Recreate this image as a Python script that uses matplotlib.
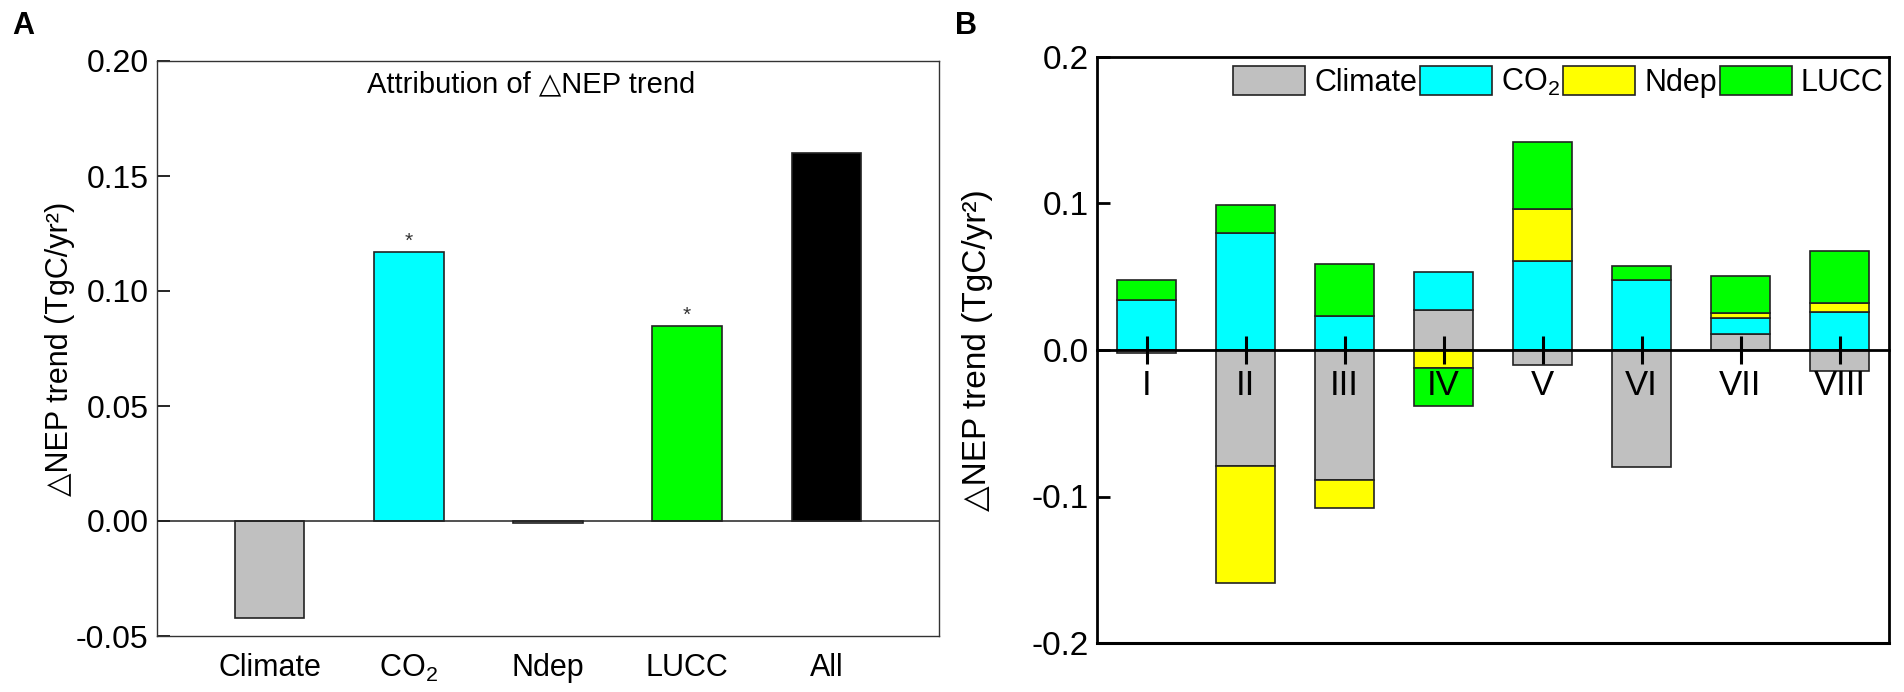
import numpy as np
import matplotlib
matplotlib.use("Agg")
import matplotlib.pyplot as plt

plt.rcParams["font.family"] = ["Liberation Sans", "DejaVu Sans"]
plt.rcParams["mathtext.default"] = "regular"

# panel A: attribution of the trend
factors_a = ["Climate", "CO$_2$", "Ndep", "LUCC", "All"]
trend_a = [-0.042, 0.117, -0.001, 0.085, 0.160]
signif_a = [False, True, False, True, False]

# panel B: stacked contribution per region
regions = ["I", "II", "III", "IV", "V", "VI", "VII", "VIII"]
factor_names = ["Climate", "CO$_2$", "Ndep", "LUCC"]
climate_b = [-0.002, -0.079, -0.089, 0.027, -0.010, -0.080, 0.011, -0.014]
co2_b = [0.034, 0.080, 0.023, 0.026, 0.061, 0.048, 0.011, 0.026]
ndep_b = [0.000, -0.080, -0.019, -0.012, 0.035, 0.000, 0.0035, 0.006]
lucc_b = [0.014, 0.019, 0.036, -0.026, 0.046, 0.009, 0.025, 0.0355]

GREY, CYAN, YELLOW, GREEN = "#C0C0C0", "#00FFFF", "#FFFF00", "#00FF00"
colors_a = [GREY, CYAN, GREY, GREEN, "black"]
colors_b = [GREY, CYAN, YELLOW, GREEN]
YLAB = "\u25b3NEP trend (TgC/yr\u00b2)"   # plain text so the triangle falls back to DejaVu

fig = plt.figure(figsize=(19.04, 6.92), dpi=100)

# ---- panel A
ax = fig.add_axes([157 / 1904, 1 - 636 / 692, 782 / 1904, 575 / 692])
xa = np.arange(len(factors_a))
ax.bar(xa, trend_a, width=0.5, color=colors_a, edgecolor="#222", lw=1.2, zorder=2)
ax.axhline(0, color="#222", lw=1.1, zorder=3)
for x, v, s in zip(xa, trend_a, signif_a):
    if s:
        ax.text(x, v + 0.0003, "*", ha="center", va="bottom", fontsize=15, color="#333")
ax.set_xlim(-0.81, 4.81); ax.set_ylim(-0.05, 0.20)
ax.set_yticks([-0.05, 0.00, 0.05, 0.10, 0.15, 0.20])
ax.set_yticklabels([f"{t:.2f}" for t in ax.get_yticks()])
ax.set_xticks(xa); ax.set_xticklabels(factors_a)
ax.tick_params(axis="y", direction="in", length=9, width=1.2, labelsize=23, pad=6)
ax.tick_params(axis="x", length=0, labelsize=22, pad=12)
for sp in ax.spines.values():
    sp.set_linewidth(1.0); sp.set_color("#333")
ax.set_ylabel(YLAB, fontsize=22, labelpad=1)
ax.text(0.478, 0.96, "Attribution of \u25b3NEP trend", transform=ax.transAxes,
        ha="center", va="center", fontsize=21)
fig.text(12 / 1904, 1 - 26 / 692, "A", fontsize=22, weight="bold", va="center")

# ---- panel B
bx = fig.add_axes([1097 / 1904, 1 - 643 / 692, 792 / 1904, 586 / 692])
bx.set_axisbelow(False)
xb = np.arange(1, len(regions) + 1)
pos = np.zeros(len(regions)); neg = np.zeros(len(regions))
for name, vals, col in zip(factor_names, [climate_b, co2_b, ndep_b, lucc_b], colors_b):
    v = np.array(vals)
    bottom = np.where(v >= 0, pos, neg)
    bx.bar(xb, v, width=0.6, bottom=bottom, color=col, edgecolor="#222", lw=1.2,
           label=name, zorder=2)
    pos = pos + np.where(v >= 0, v, 0); neg = neg + np.where(v < 0, v, 0)
bx.set_xlim(0.5, 8.5); bx.set_ylim(-0.2, 0.2)
bx.set_yticks([-0.2, -0.1, 0.0, 0.1, 0.2])
bx.set_yticklabels([f"{t:.1f}" for t in bx.get_yticks()])
bx.spines["bottom"].set_position(("data", 0))
bx.plot([0, 1], [0, 0], transform=bx.transAxes, color="black", lw=2.2, clip_on=False)
for sp in bx.spines.values():
    sp.set_linewidth(2.0); sp.set_zorder(3)
bx.set_xticks(xb); bx.set_xticklabels(regions)
bx.tick_params(axis="x", direction="inout", length=20, width=2.2, labelsize=25, pad=4)
bx.tick_params(axis="y", direction="in", length=9, width=2.0, labelsize=24, pad=6)
bx.set_ylabel(YLAB, fontsize=24, labelpad=28)
bx.legend(loc="upper left", bbox_to_anchor=(0.172, 0.985), ncol=4, frameon=False,
          fontsize=22, handlelength=2.35, handleheight=1.1, handletextpad=0.3,
          columnspacing=0.1, borderpad=0, borderaxespad=0)
fig.text(955 / 1904, 1 - 26 / 692, "B", fontsize=22, weight="bold", va="center")

fig.savefig("out.png", dpi=100)
